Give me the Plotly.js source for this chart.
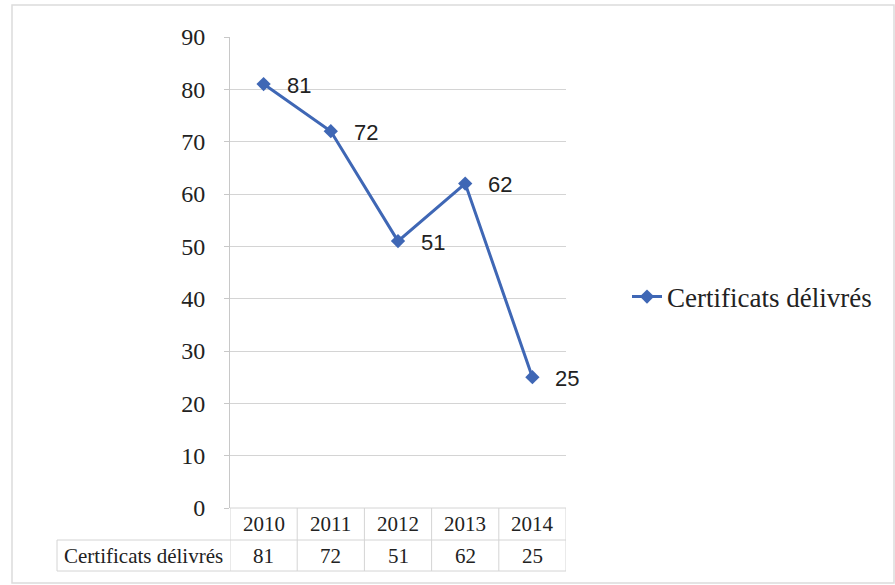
<!DOCTYPE html>
<html>
<head>
<meta charset="utf-8">
<script src="https://cdn.plot.ly/plotly-3.0.1.min.js"></script>
<style>html,body{margin:0;padding:0;background:#fff;}#chart{width:895px;height:585px;}</style>
</head>
<body>
<div id="chart"></div>
<script>
const years = ['2010', '2011', '2012', '2013', '2014'];
const certificats = [81, 72, 51, 62, 25];
const seriesName = 'Certificats délivrés';
const yTicks = [0, 10, 20, 30, 40, 50, 60, 70, 80, 90];

const W = 895, H = 585;
const L = 230, R = 566, T = 37, B = 508;
const px = x => (x - L) / (R - L);
const py = y => (B - y) / (B - T);
const gridC = '#d4d4d4';
const SERIF = '"Liberation Serif", "Times New Roman", Times, serif';
const SANS = '"Liberation Sans", Arial, sans-serif';

const shapes = [];
function line(x0, y0, x1, y1, xref) {
  shapes.push({type: 'line', xref: xref || 'paper', yref: 'paper', x0: x0, x1: x1, y0: y0, y1: y1,
    line: {color: gridC, width: 1}});
}
// table lines
line(px(230), py(508), px(566), py(508));
line(px(57), py(540), px(566), py(540));
line(px(57), py(571), px(566), py(571));
line(px(57), py(540), px(57), py(571));
for (let i = 0; i <= years.length; i++) {
  line(i - 0.5, py(508), i - 0.5, py(571), 'x');
}
// outer border
shapes.push({type: 'rect', xref: 'paper', yref: 'paper', x0: px(12), x1: px(894), y0: py(583), y1: py(5),
  line: {color: '#dcdcdc', width: 1.5}});

const annotations = [];
years.forEach((yr, i) => {
  annotations.push({x: i, y: certificats[i], xref: 'x', yref: 'y', text: String(certificats[i]),
    showarrow: false, xanchor: 'left', yanchor: 'middle', xshift: 21, yshift: -1,
    font: {family: SANS, size: 22, color: '#222'}});
  annotations.push({x: i, y: py(524), xref: 'x', yref: 'paper', text: yr, showarrow: false,
    xanchor: 'center', yanchor: 'middle',
    font: {family: SERIF, size: 21, color: '#222'}});
  annotations.push({x: i, y: py(556), xref: 'x', yref: 'paper', text: String(certificats[i]), showarrow: false,
    xanchor: 'center', yanchor: 'middle',
    font: {family: SERIF, size: 21, color: '#222'}});
});
annotations.push({x: px(143), y: py(556), xref: 'paper', yref: 'paper', text: seriesName, showarrow: false,
  xanchor: 'center', yanchor: 'middle',
  font: {family: SERIF, size: 21, color: '#222'}});

const trace = {
  x: years, y: certificats, type: 'scatter', mode: 'lines+markers', name: seriesName,
  line: {color: '#3f67b5', width: 3},
  marker: {symbol: 'diamond', size: 11, color: '#3f67b5'}
};

const layout = {
  width: W, height: H,
  margin: {l: L, r: W - R, t: T, b: H - B},
  paper_bgcolor: '#fff', plot_bgcolor: '#fff',
  font: {family: SERIF},
  showlegend: true,
  legend: {x: px(627), y: py(297), xanchor: 'left', yanchor: 'middle', itemwidth: 30,
    font: {family: SERIF, size: 27, color: '#222'},
    bgcolor: 'rgba(0,0,0,0)'},
  xaxis: {type: 'category', range: [-0.5, 4.5], showticklabels: false, showgrid: false,
    zeroline: false, showline: false, ticks: '', fixedrange: true},
  yaxis: {range: [0, 90], tickvals: yTicks, ticktext: yTicks.map(String), showgrid: true, gridcolor: gridC,
    zeroline: false, showline: true, linecolor: '#c8c8c8', ticks: 'outside', ticklen: 5, tickcolor: '#c8c8c8',
    ticklabelstandoff: 14,
    tickfont: {family: SERIF, size: 24, color: '#222'}},
  shapes: shapes,
  annotations: annotations
};

Plotly.newPlot('chart', [trace], layout, {displayModeBar: false, staticPlot: true});
</script>
</body>
</html>
